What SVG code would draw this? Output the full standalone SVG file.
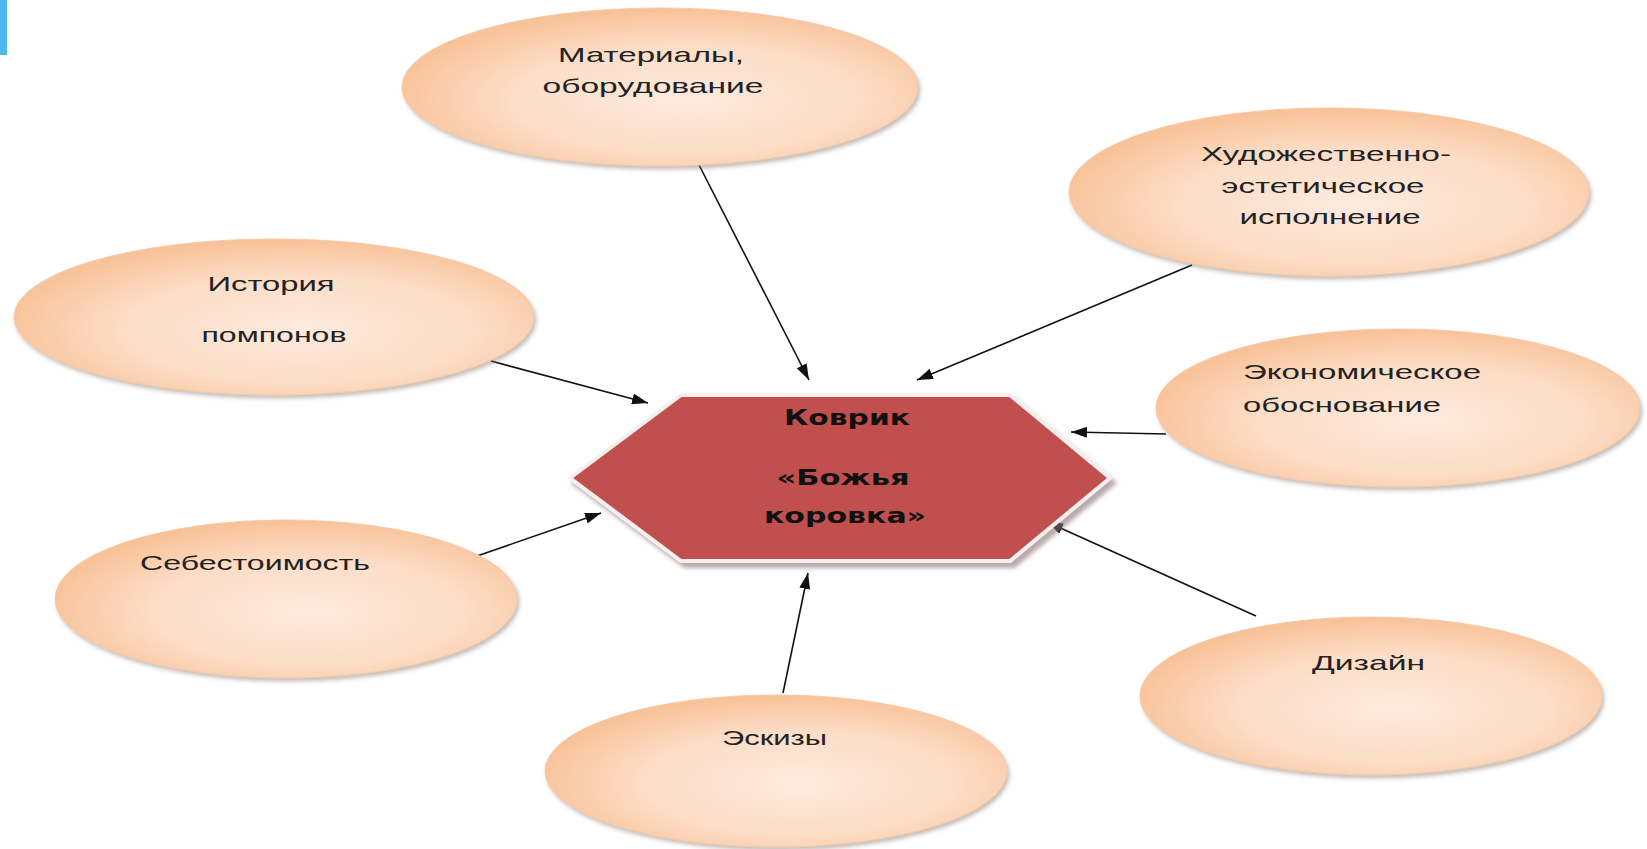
<svg xmlns="http://www.w3.org/2000/svg" width="1647" height="849" viewBox="0 0 1647 849">
<defs>
<radialGradient id="peach" cx="55%" cy="58%" r="62%">
<stop offset="0" stop-color="#fdeade"/>
<stop offset="0.55" stop-color="#fcddc6"/>
<stop offset="1" stop-color="#f8bd90"/>
</radialGradient>
<filter id="sh" x="-10%" y="-10%" width="125%" height="130%">
<feDropShadow dx="2" dy="3" stdDeviation="2" flood-color="#7a6a60" flood-opacity="0.45"/>
</filter>
<filter id="hsh" x="-10%" y="-10%" width="125%" height="130%">
<feDropShadow dx="4" dy="5" stdDeviation="2" flood-color="#8a7070" flood-opacity="0.6"/>
</filter>
<marker id="ah" viewBox="0 0 16 11" refX="16" refY="5.5" markerWidth="16" markerHeight="11" markerUnits="userSpaceOnUse" orient="auto">
<path d="M0,0 L16,5.5 L0,11 z" fill="#111"/>
</marker>
</defs>
<style>
.oval{fill:url(#peach);stroke:#f6c9a6;stroke-width:1;filter:url(#sh)}
.t{font-family:"Liberation Sans","Noto Sans",Arial,sans-serif;font-size:21px;fill:#222}
.c{text-anchor:middle}
.b{font-family:"DejaVu Sans","Liberation Sans",sans-serif;font-size:21px;font-weight:bold;fill:#111;text-anchor:middle}
.ln{stroke:#111;stroke-width:1.6;fill:none;marker-end:url(#ah)}
</style>
<rect x="0" y="0" width="1647" height="849" fill="#ffffff"/>
<rect x="0" y="0" width="7" height="55" fill="#4db8f0"/>

<g id="connectors">
<line class="ln" x1="698" y1="163" x2="809" y2="380"/>
<line class="ln" x1="1192" y1="265" x2="917" y2="380"/>
<line class="ln" x1="491" y1="361" x2="648" y2="403"/>
<line class="ln" x1="1166" y1="434" x2="1071" y2="432"/>
<line class="ln" x1="477" y1="556" x2="601" y2="513"/>
<line class="ln" x1="783" y1="693" x2="808" y2="573"/>
<line class="ln" x1="1256" y1="616" x2="1047" y2="522"/>
</g>

<g id="node-materials">
<ellipse class="oval" cx="660" cy="87" rx="258" ry="79"/>
<text class="t c" x="651" y="62" textLength="186" lengthAdjust="spacingAndGlyphs">Материалы,</text>
<text class="t c" x="653" y="93" textLength="221" lengthAdjust="spacingAndGlyphs">оборудование</text>
</g>

<g id="node-history">
<ellipse class="oval" cx="274" cy="317" rx="260" ry="78"/>
<text class="t c" x="271" y="291" textLength="127" lengthAdjust="spacingAndGlyphs">История</text>
<text class="t c" x="274" y="342" textLength="145" lengthAdjust="spacingAndGlyphs">помпонов</text>
</g>

<g id="node-art">
<ellipse class="oval" cx="1329" cy="192" rx="260" ry="84"/>
<text class="t c" x="1326" y="161" textLength="250" lengthAdjust="spacingAndGlyphs">Художественно-</text>
<text class="t c" x="1323" y="193" textLength="203" lengthAdjust="spacingAndGlyphs">эстетическое</text>
<text class="t c" x="1330" y="224" textLength="181" lengthAdjust="spacingAndGlyphs">исполнение</text>
</g>

<g id="node-econ">
<ellipse class="oval" cx="1398" cy="408" rx="242" ry="79"/>
<text class="t" x="1243" y="379" textLength="238" lengthAdjust="spacingAndGlyphs">Экономическое</text>
<text class="t" x="1243" y="412" textLength="198" lengthAdjust="spacingAndGlyphs">обоснование</text>
</g>

<g id="node-cost">
<ellipse class="oval" cx="286" cy="599" rx="231" ry="79"/>
<text class="t" x="140" y="570" textLength="230" lengthAdjust="spacingAndGlyphs">Себестоимость</text>
</g>

<g id="node-sketch">
<ellipse class="oval" cx="776" cy="771" rx="231" ry="76"/>
<text class="t" x="722" y="745" textLength="105" lengthAdjust="spacingAndGlyphs">Эскизы</text>
</g>

<g id="node-design">
<ellipse class="oval" cx="1371" cy="696" rx="231" ry="79"/>
<text class="t" x="1312" y="670" textLength="113" lengthAdjust="spacingAndGlyphs">Дизайн</text>
</g>

<g id="node-center">
<polygon points="570,478 681,395 1010,395 1110,478 1010,561 681,561" fill="#c0504d" stroke="#f7eeee" stroke-width="4" stroke-linejoin="miter" filter="url(#hsh)"/>
<text class="b" x="847" y="425" textLength="126" lengthAdjust="spacingAndGlyphs">Коврик</text>
<text class="b" x="843" y="485" textLength="133" lengthAdjust="spacingAndGlyphs">«Божья</text>
<text class="b" x="845" y="523" textLength="162" lengthAdjust="spacingAndGlyphs">коровка»</text>
</g>
</svg>
